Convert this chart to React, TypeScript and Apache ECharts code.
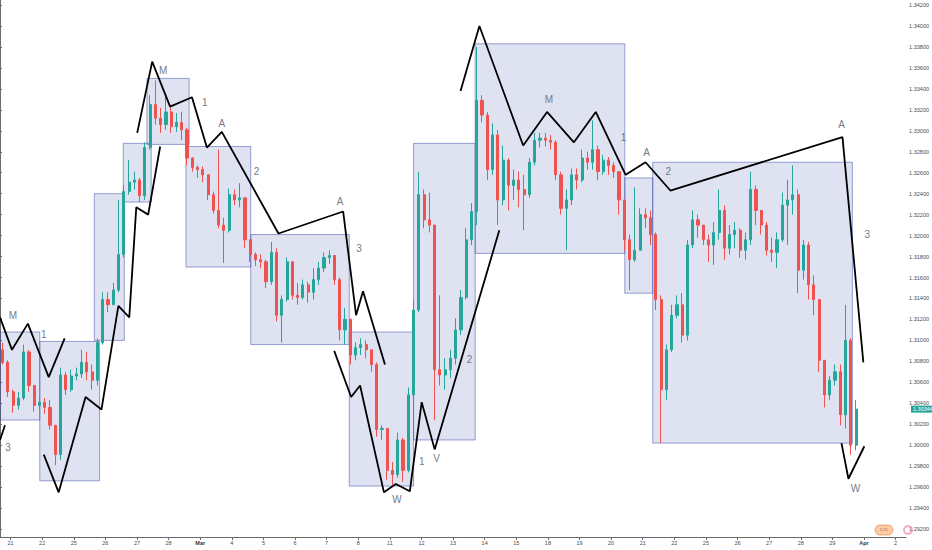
import { useEffect, useRef } from 'react';
import * as echarts from 'echarts';

// GBPUSD, 4h candles, Feb 20 (last two bars) to Mar 29 2019
const firstOpen = 1.3091;

const closes = [
    1.3079, 1.3051, 1.3038, 1.3045, 1.3089, 1.3057, 1.3038, 1.3041, 1.3036, 1.3019,
    1.2991, 1.3067, 1.3053, 1.3066, 1.3068, 1.3079, 1.3070, 1.3062, 1.3098, 1.3139,
    1.3134, 1.3148, 1.3182, 1.3242, 1.3251, 1.3253, 1.3238, 1.3284, 1.3325, 1.3312,
    1.3306, 1.3318, 1.3304, 1.3308, 1.3301, 1.3274, 1.3265, 1.3263, 1.3258, 1.3239,
    1.3224, 1.3210, 1.3205, 1.3239, 1.3234, 1.3236, 1.3196, 1.3182, 1.3177, 1.3175,
    1.3156, 1.3184, 1.3124, 1.3139, 1.3175, 1.3143, 1.3141, 1.3153, 1.3146, 1.3158,
    1.3169, 1.3179, 1.3181, 1.3158, 1.3110, 1.3120, 1.3086, 1.3093, 1.3096, 1.3091,
    1.3077, 1.3015, 1.3016, 1.2976, 1.2972, 1.3005, 1.2976, 1.3048, 1.3129, 1.3239,
    1.3215, 1.3210, 1.3072, 1.3067, 1.3072, 1.3083, 1.3110, 1.3141, 1.3196, 1.3223,
    1.3329, 1.3315, 1.3263, 1.3296, 1.3234, 1.3272, 1.3248, 1.3253, 1.3244, 1.3239,
    1.3270, 1.3291, 1.3293, 1.3291, 1.3289, 1.3258, 1.3226, 1.3234, 1.3258, 1.3253,
    1.3274, 1.3270, 1.3282, 1.3261, 1.3272, 1.3267, 1.3261, 1.3234, 1.3196, 1.3177,
    1.3186, 1.3220, 1.3217, 1.3201, 1.3139, 1.3053, 1.3091, 1.3124, 1.3134, 1.3105,
    1.3191, 1.3215, 1.3210, 1.3196, 1.3191, 1.3203, 1.3224, 1.3188, 1.3201, 1.3205,
    1.3186, 1.3196, 1.3244, 1.3224, 1.3210, 1.3186, 1.3184, 1.3196, 1.3229, 1.3234,
    1.3239, 1.3167, 1.3191, 1.3153, 1.3139, 1.3081, 1.3048, 1.3062, 1.3070, 1.3029,
    1.3100, 1.3000, 1.30344,
];

const highs = [
    1.3098, 1.3081, 1.3053, 1.3051, 1.3096, 1.3091, 1.3057, 1.3046, 1.3045, 1.3043,
    1.3019, 1.3074, 1.3070, 1.3072, 1.3074, 1.3091, 1.3089, 1.3077, 1.3102, 1.3146,
    1.3146, 1.3155, 1.3234, 1.3248, 1.3272, 1.3261, 1.3255, 1.3289, 1.3334, 1.3348,
    1.3322, 1.3336, 1.3325, 1.3317, 1.3318, 1.3303, 1.3275, 1.3267, 1.3266, 1.3255,
    1.3242, 1.3282, 1.3217, 1.3245, 1.3244, 1.3250, 1.3236, 1.3196, 1.3184, 1.3182,
    1.3177, 1.3194, 1.3188, 1.3143, 1.3179, 1.3175, 1.3155, 1.3158, 1.3156, 1.3169,
    1.3175, 1.3184, 1.3186, 1.3181, 1.3160, 1.3131, 1.3121, 1.3098, 1.3102, 1.3100,
    1.3091, 1.3079, 1.3019, 1.3016, 1.2984, 1.3012, 1.3007, 1.3055, 1.3139, 1.3261,
    1.3244, 1.3241, 1.3207, 1.3143, 1.3083, 1.3091, 1.3121, 1.3148, 1.3207, 1.3231,
    1.3380, 1.3334, 1.3318, 1.3307, 1.3301, 1.3286, 1.3274, 1.3263, 1.3261, 1.3258,
    1.3274, 1.3298, 1.3298, 1.3298, 1.3296, 1.3291, 1.3261, 1.3244, 1.3264, 1.3264,
    1.3282, 1.3280, 1.3310, 1.3286, 1.3277, 1.3275, 1.3270, 1.3258, 1.3229, 1.3201,
    1.3246, 1.3226, 1.3226, 1.3224, 1.3203, 1.3143, 1.3096, 1.3134, 1.3143, 1.3145,
    1.3196, 1.3224, 1.3220, 1.3210, 1.3201, 1.3213, 1.3244, 1.3229, 1.3210, 1.3213,
    1.3207, 1.3203, 1.3261, 1.3248, 1.3224, 1.3213, 1.3198, 1.3203, 1.3241, 1.3253,
    1.3267, 1.3244, 1.3196, 1.3194, 1.3162, 1.3139, 1.3077, 1.3066, 1.3077, 1.3077,
    1.3134, 1.3102, 1.3043,
];

const lows = [
    1.3077, 1.3046, 1.3031, 1.3034, 1.3043, 1.3051, 1.3032, 1.3034, 1.3030, 1.3015,
    1.2981, 1.2986, 1.3048, 1.3051, 1.3062, 1.3064, 1.3062, 1.3053, 1.3057, 1.3096,
    1.3127, 1.3134, 1.3146, 1.3179, 1.3239, 1.3244, 1.3232, 1.3234, 1.3282, 1.3306,
    1.3298, 1.3301, 1.3298, 1.3299, 1.3291, 1.3267, 1.3261, 1.3255, 1.3251, 1.3234,
    1.3221, 1.3207, 1.3174, 1.3203, 1.3229, 1.3227, 1.3188, 1.3175, 1.3171, 1.3169,
    1.3150, 1.3153, 1.3118, 1.3098, 1.3137, 1.3139, 1.3134, 1.3139, 1.3136, 1.3139,
    1.3153, 1.3165, 1.3173, 1.3153, 1.3100, 1.3096, 1.3077, 1.3081, 1.3086, 1.3083,
    1.3070, 1.3008, 1.3005, 1.2967, 1.2962, 1.2969, 1.2965, 1.2974, 1.3048, 1.3127,
    1.3207, 1.3203, 1.3024, 1.3057, 1.3053, 1.3064, 1.3077, 1.3105, 1.3139, 1.3191,
    1.3210, 1.3308, 1.3253, 1.3258, 1.3210, 1.3229, 1.3224, 1.3234, 1.3227, 1.3205,
    1.3236, 1.3267, 1.3284, 1.3285, 1.3282, 1.3253, 1.3220, 1.3186, 1.3229, 1.3244,
    1.3251, 1.3263, 1.3263, 1.3253, 1.3258, 1.3258, 1.3255, 1.3220, 1.3186, 1.3148,
    1.3175, 1.3186, 1.3207, 1.3191, 1.3129, 1.3002, 1.3043, 1.3089, 1.3121, 1.3098,
    1.3100, 1.3188, 1.3198, 1.3191, 1.3175, 1.3172, 1.3196, 1.3177, 1.3182, 1.3188,
    1.3179, 1.3177, 1.3191, 1.3210, 1.3201, 1.3181, 1.3175, 1.3169, 1.3194, 1.3191,
    1.3220, 1.3145, 1.3158, 1.3139, 1.3124, 1.3070, 1.3036, 1.3043, 1.3057, 1.3019,
    1.3016, 1.2991, 1.2995,
];

const lastPrice = 1.30344;

// one label per trading day, Feb 21 .. Apr 2
const dayLabels = [
    '21', '22', '25', '26', '27', '28', 'Mar', '4', '5', '6', '7', '8', '11', '12', '13',
    '14', '15', '18', '19', '20', '21', '22', '25', '26', '27', '28', '29', 'Apr', '2',
];

const priceTicks = [
    1.292, 1.294, 1.296, 1.298, 1.300, 1.302, 1.304, 1.306, 1.308, 1.310, 1.312, 1.314, 1.316,
    1.318, 1.320, 1.322, 1.324, 1.326, 1.328, 1.330, 1.332, 1.334, 1.336, 1.338, 1.340, 1.342,
];

// drawings, in bar units (4h slots) and price: [from, to, top, bottom]
const boxes = [
    [0, 7.55, 1.3108, 1.3024],
    [7.55, 18.9, 1.3099, 1.2966],
    [17.9, 23.6, 1.3240, 1.3100],
    [23.4, 28.7, 1.3288, 1.3232],
    [27.9, 35.9, 1.3350, 1.3287],
    [35.3, 47.6, 1.3285, 1.3170],
    [47.6, 66.3, 1.3201, 1.3096],
    [66.3, 78.5, 1.3108, 1.2961],
    [78.5, 90.2, 1.3288, 1.3005],
    [90.2, 118.6, 1.3383, 1.3183],
    [118.6, 123.9, 1.3255, 1.3145],
    [123.9, 161.8, 1.3270, 1.3002],
];

const waveLines = [
    [[0, 1.3122], [2.27, 1.3091], [5.29, 1.3116], [9.25, 1.3065], [12.27, 1.3102]],
    [[0, 1.3005], [0.94, 1.3019]],
    [[8.31, 1.2991], [11.14, 1.2955], [16.24, 1.3046], [19.26, 1.3034], [22.47, 1.3133],
        [24.54, 1.3122], [25.87, 1.3227], [28.13, 1.3220], [30.4, 1.3285]],
    [[26.05, 1.3298], [28.89, 1.3366], [32.29, 1.3323], [36.44, 1.3332], [39.27, 1.3284],
        [42.1, 1.3299], [52.86, 1.3202], [65.14, 1.3223], [67.59, 1.3124], [68.91, 1.3147],
        [73.07, 1.3077]],
    [[63.44, 1.3090], [66.65, 1.3046], [68.35, 1.3057], [72.88, 1.2955], [75.14, 1.2963],
        [77.79, 1.2956], [80.05, 1.3041], [82.51, 1.2996], [94.78, 1.3205]],
    [[87.42, 1.3338], [91.0, 1.3400], [99.31, 1.3286], [103.84, 1.3318], [108.94, 1.3289],
        [113.09, 1.3318], [118.76, 1.3258], [122.53, 1.3270], [127.25, 1.3243],
        [159.92, 1.3294], [163.88, 1.3079]],
    [[159.73, 1.3002], [161.05, 1.2968], [164.07, 1.2999]],
];

const waveLabels: [string, number, number][] = [
    ['M', 2.45, 1.3124], ['1', 8.31, 1.3106], ['3', 1.51, 1.2998],
    ['M', 30.96, 1.3358], ['1', 38.89, 1.3327], ['A', 42.1, 1.3307], ['2', 48.71, 1.3261],
    ['A', 64.57, 1.3233], ['3', 68.16, 1.3188], ['W', 75.33, 1.2948], ['1', 80.05, 1.2984],
    ['V', 82.88, 1.2987], ['2', 89.11, 1.3082], ['M', 104.22, 1.3330], ['1', 118.38, 1.3294],
    ['A', 122.72, 1.3279], ['2', 126.87, 1.3261], ['A', 159.73, 1.3306], ['3', 164.63, 1.3201],
    ['W', 162.37, 1.2959],
];

const SLOTS = 172;
const FONT = 'Liberation Sans';

export default function App() {
    const chartRef = useRef<HTMLDivElement>(null);

    useEffect(() => {
        if (!chartRef.current) return;
        const chart = echarts.init(chartRef.current, undefined, { renderer: 'svg' });

        const ohlc = closes.map((c, i) => {
            const o = i === 0 ? firstOpen : closes[i - 1];
            return [o, c, Math.min(lows[i], o, c), Math.max(highs[i], o, c)];
        });
        const slots = Array.from({ length: SLOTS }, (_, i) => String(i));
        const dayTicks = dayLabels.map((_, d) => 2 + d * 6);
        const axisText = { fontSize: 5.5, color: '#4a4a4a', fontFamily: FONT };

        const option: echarts.EChartsOption = {
            animation: false,
            backgroundColor: '#ffffff',
            grid: { left: 0, right: 21, top: 0, bottom: 13 },
            xAxis: [
                { type: 'category', data: slots, boundaryGap: true, show: false },
                {
                    type: 'value',
                    min: 0,
                    max: SLOTS,
                    position: 'bottom',
                    axisLine: { show: true, lineStyle: { color: '#6a6a6a', width: 1 } },
                    axisTick: { show: true, customValues: dayTicks, length: 3, lineStyle: { color: '#6a6a6a' } },
                    axisLabel: {
                        ...axisText,
                        customValues: dayTicks,
                        margin: 3,
                        formatter: (v: number) => {
                            const s = dayLabels[Math.round((v - 2) / 6)] ?? '';
                            return s === 'Mar' || s === 'Apr' ? `{b|${s}}` : s;
                        },
                        rich: { b: { fontSize: 5.5, fontWeight: 'bold', color: '#333', fontFamily: FONT } },
                    },
                    splitLine: { show: false },
                },
            ],
            yAxis: {
                type: 'value',
                position: 'right',
                min: 1.29124,
                max: 1.34248,
                axisLine: { show: true, lineStyle: { color: '#6a6a6a', width: 1 } },
                axisTick: { show: true, customValues: priceTicks, length: 2, lineStyle: { color: '#6a6a6a' } },
                axisLabel: {
                    ...axisText,
                    customValues: priceTicks,
                    margin: 3,
                    formatter: (v: number) => v.toFixed(5),
                },
                splitLine: { show: false },
            },
            series: [
                {
                    type: 'candlestick',
                    xAxisIndex: 0,
                    yAxisIndex: 0,
                    data: ohlc,
                    barWidth: '50%',
                    z: 2,
                    itemStyle: {
                        color: '#26a69a',
                        color0: '#ef5350',
                        borderColor: '#26a69a',
                        borderColor0: '#ef5350',
                        borderWidth: 1,
                    },
                },
                {
                    type: 'line',
                    xAxisIndex: 1,
                    yAxisIndex: 0,
                    data: [[0, 1.31]],
                    showSymbol: false,
                    lineStyle: { width: 0 },
                    silent: true,
                    z: 3,
                    markArea: {
                        silent: true,
                        itemStyle: {
                            color: 'rgba(57, 73, 171, 0.16)',
                            borderColor: 'rgba(57, 73, 171, 0.5)',
                            borderWidth: 1,
                        },
                        data: boxes.map((b) => [
                            { coord: [b[0], b[2]] },
                            { coord: [b[1], b[3]] },
                        ]) as any,
                    },
                },
                ...waveLines.map((pts) => ({
                    type: 'line' as const,
                    xAxisIndex: 1,
                    yAxisIndex: 0,
                    data: pts,
                    showSymbol: false,
                    silent: true,
                    z: 5,
                    lineStyle: { color: '#000000', width: 1.8 },
                })),
                {
                    type: 'custom',
                    xAxisIndex: 1,
                    yAxisIndex: 0,
                    silent: true,
                    z: 6,
                    data: waveLabels.map(([name, t, p]) => [t, p, name]),
                    renderItem: (params: any, api: any) => {
                        const pt = api.coord([api.value(0), api.value(1)]);
                        return {
                            type: 'text',
                            x: pt[0],
                            y: pt[1],
                            style: {
                                text: waveLabels[params.dataIndex][0],
                                fill: '#787b86',
                                font: `10px "${FONT}"`,
                                align: 'center',
                                verticalAlign: 'middle',
                            },
                        };
                    },
                },
            ],
        };

        chart.setOption(option);

        // last price tag on the price scale
        const py = chart.convertToPixel({ yAxisIndex: 0 }, lastPrice) as number;
        chart.setOption({
            graphic: [
                {
                    type: 'rect',
                    shape: { x: 911, y: py - 3.5, width: 21, height: 7 },
                    style: { fill: '#26a69a' },
                    z: 10,
                },
                {
                    type: 'text',
                    x: 913,
                    y: py,
                    style: {
                        text: lastPrice.toFixed(5),
                        fill: '#ffffff',
                        font: `5.5px "${FONT}"`,
                        verticalAlign: 'middle',
                    },
                    z: 11,
                },
                {
                    type: 'rect',
                    shape: { x: 875, y: 525, width: 18, height: 10, r: 5 },
                    style: { fill: 'rgba(247, 163, 92, 0.55)', stroke: 'rgba(230, 120, 60, 0.6)' },
                    z: 10,
                },
                {
                    type: 'text',
                    x: 884,
                    y: 527,
                    style: { text: '5 11', fill: '#8a5a3a', font: `4px "${FONT}"`, align: 'center' },
                    z: 11,
                },
                {
                    type: 'ring',
                    shape: { cx: 908, cy: 530, r: 5, r0: 3 },
                    style: { fill: 'rgba(233, 120, 170, 0.6)' },
                    z: 10,
                },
            ],
        });

        return () => {
            chart.dispose();
        };
    }, []);

    return (
        <div
            ref={chartRef}
            style={{ position: 'fixed', left: 0, top: 0, width: '932px', height: '550px', background: '#fff' }}
        />
    );
}
